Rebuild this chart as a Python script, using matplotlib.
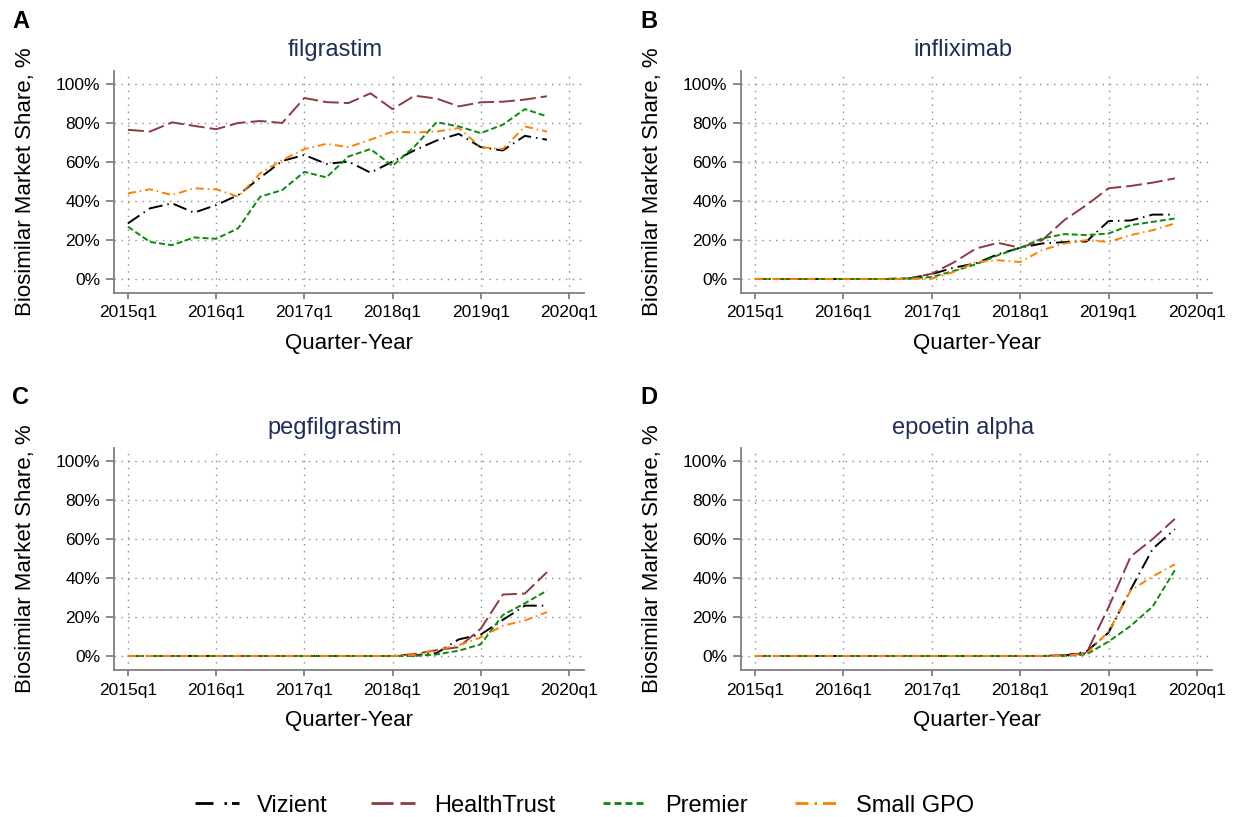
import matplotlib
matplotlib.use("Agg")
import matplotlib.pyplot as plt
from matplotlib.lines import Line2D
import numpy as np

# ---------------- data ----------------
quarters = [f"{y}q{q}" for y in range(2015, 2020) for q in range(1, 5)]  # 2015q1..2019q4
tick_labels = ["2015q1", "2016q1", "2017q1", "2018q1", "2019q1", "2020q1"]
ytick_vals = [0, 20, 40, 60, 80, 100]
ytick_labels = ["0%", "20%", "40%", "60%", "80%", "100%"]

drugs = ["filgrastim", "infliximab", "pegfilgrastim", "epoetin alpha"]
panel_letters = ["A", "B", "C", "D"]
gpos = ["Vizient", "HealthTrust", "Premier", "Small GPO"]

# filgrastim
fil_vizient = [28.5, 36.2, 38.8, 34.0, 37.9, 43.0, 52.0, 60.5, 63.6, 59.0,
               60.2, 54.5, 60.2, 66.0, 71.0, 74.4, 67.6, 65.9, 73.4, 71.4]
fil_healthtrust = [76.5, 75.6, 80.3, 78.5, 76.8, 80.0, 81.0, 80.0, 92.8, 90.7,
                   90.2, 95.2, 87.1, 94.0, 92.5, 88.5, 90.6, 90.9, 92.0, 93.7]
fil_premier = [26.8, 19.0, 17.3, 21.3, 20.6, 26.0, 42.2, 45.6, 54.9, 52.1,
               62.8, 66.6, 58.0, 68.0, 80.4, 78.2, 74.8, 79.1, 87.1, 83.4]
fil_smallgpo = [43.9, 46.0, 43.0, 46.5, 46.0, 42.2, 54.2, 61.0, 66.6, 69.3,
                67.6, 71.4, 75.6, 75.1, 75.6, 77.4, 67.6, 66.6, 78.2, 75.6]

# infliximab
inf_vizient = [0, 0, 0, 0, 0, 0, 0, 0.3, 2.5, 5.8,
               8.0, 12.7, 16.0, 18.2, 18.9, 19.2, 29.7, 30.0, 33.0, 33.0]
inf_healthtrust = [0, 0, 0, 0, 0, 0, 0, 0.3, 2.7, 8.5,
                   15.6, 18.5, 16.0, 19.9, 30.2, 37.9, 46.5, 47.7, 49.4, 51.6]
inf_premier = [0, 0, 0, 0, 0, 0, 0, 0.2, 1.0, 4.1,
               7.5, 12.2, 16.0, 20.8, 23.0, 22.5, 23.3, 27.6, 29.3, 31.0]
inf_smallgpo = [0, 0, 0, 0, 0, 0, 0, 0, 0.2, 3.6,
                8.7, 9.6, 8.7, 14.8, 18.2, 19.9, 19.0, 22.5, 25.0, 28.5]

# pegfilgrastim
peg_vizient = [0, 0, 0, 0, 0, 0, 0, 0, 0, 0,
               0, 0, 0, 0.3, 1.5, 8.5, 11.0, 18.5, 25.8, 25.8]
peg_healthtrust = [0, 0, 0, 0, 0, 0, 0, 0, 0, 0,
                   0, 0, 0, 1.0, 3.0, 4.5, 14.0, 31.5, 32.0, 43.0]
peg_premier = [0, 0, 0, 0, 0, 0, 0, 0, 0, 0,
               0, 0, 0, 0, 0.8, 2.7, 6.0, 21.0, 27.0, 33.5]
peg_smallgpo = [0, 0, 0, 0, 0, 0, 0, 0, 0, 0,
                0, 0, 0, 0.5, 3.0, 5.5, 9.5, 15.5, 18.2, 22.5]

# epoetin alpha
epo_vizient = [0, 0, 0, 0, 0, 0, 0, 0, 0, 0,
               0, 0, 0, 0, 0.2, 2.2, 12.0, 34.0, 55.0, 65.0]
epo_healthtrust = [0, 0, 0, 0, 0, 0, 0, 0, 0, 0,
                   0, 0, 0, 0, 0.5, 1.5, 25.0, 51.0, 60.0, 70.3]
epo_premier = [0, 0, 0, 0, 0, 0, 0, 0, 0, 0,
               0, 0, 0, 0, 0, 0.8, 7.4, 15.4, 25.4, 44.0]
epo_smallgpo = [0, 0, 0, 0, 0, 0, 0, 0, 0, 0,
                0, 0, 0, 0, 0, 1.2, 12.5, 33.6, 40.8, 47.0]

panel_data = [
    [fil_vizient, fil_healthtrust, fil_premier, fil_smallgpo],
    [inf_vizient, inf_healthtrust, inf_premier, inf_smallgpo],
    [peg_vizient, peg_healthtrust, peg_premier, peg_smallgpo],
    [epo_vizient, epo_healthtrust, epo_premier, epo_smallgpo],
]

# ---------------- styles ----------------
colors = ["#000000", "#8c3a40", "#0a8a0a", "#ff7f00"]
PX = 0.72  # px -> pt at dpi 100
dash_px = [(14, 5, 1.5, 5), (16, 5), (6, 3), (8, 4, 1.5, 4)]
dashes = [(0, tuple(v * PX for v in d)) for d in dash_px]
leg_dash_px = [(18, 11, 2.5, 5), (22, 7), (7, 4), (13, 6, 2.5, 6)]
leg_dashes = [(0, tuple(v * PX for v in d)) for d in leg_dash_px]
LW = 1.4

plt.rcParams["font.family"] = ["Liberation Sans", "DejaVu Sans"]
plt.rcParams["lines.scale_dashes"] = False

W, H = 1234, 817
fig = plt.figure(figsize=(W / 100, H / 100), dpi=100)

def fx(px):
    return px / W

def fy(py):
    return 1 - py / H

spine_col = "#7f7f7f"
title_col = "#1e2d59"

# axes pixel boxes: (left, top, right, bottom)
boxes = [(114, 70.7, 584, 293), (741, 70.7, 1212, 293),
         (114, 447.7, 584, 670), (741, 447.7, 1212, 670)]
title_x = [335, 963, 335, 963]
title_y = [50, 50, 428, 428]
letter_y = [21, 21, 398, 398]

x = np.arange(len(quarters))

for i, (l, t, r, b) in enumerate(boxes):
    ax = fig.add_axes([fx(l), fy(b), fx(r - l), (b - t) / H])
    for k in range(4):
        ax.plot(x, panel_data[i][k], color=colors[k], lw=LW, linestyle=dashes[k],
                dash_capstyle="butt", solid_capstyle="butt")
    ax.set_xlim(-0.63, 20.68)
    ax.set_ylim(-7.2, 106.8)
    ax.set_xticks(range(0, 21, 4))
    ax.set_xticklabels(tick_labels, fontsize=12.5)
    ax.set_yticks(ytick_vals)
    ax.set_yticklabels(ytick_labels, fontsize=12.5)
    ax.grid(True, color="#8a8a8a", linestyle=(0, (1, 4)), lw=1.0)
    ax.set_axisbelow(True)
    for s in ["top", "right"]:
        ax.spines[s].set_visible(False)
    for s in ["left", "bottom"]:
        ax.spines[s].set_color(spine_col)
        ax.spines[s].set_linewidth(1.3)
    ax.tick_params(axis="y", length=6, width=1.3, color=spine_col, pad=4)
    ax.tick_params(axis="x", length=4, width=1.3, color=spine_col, pad=5)
    ax.set_xlabel("Quarter-Year", fontsize=16, labelpad=9)
    ax.set_ylabel("Biosimilar Market Share, %", fontsize=16, labelpad=14)
    fig.text(fx(title_x[i]), fy(title_y[i]), drugs[i], ha="center", va="center",
             fontsize=17, color=title_col)
    fig.text(fx(12 if i % 2 == 0 else 640), fy(letter_y[i]), panel_letters[i],
             ha="left", va="center", fontsize=17, fontweight="bold")

# legend at bottom
handle_x = [195, 371, 603, 795]
text_x = [257, 434, 665, 856]
handle_len = 44
leg_y = 803
for k in range(4):
    ln = Line2D([fx(handle_x[k]), fx(handle_x[k] + handle_len)], [fy(leg_y), fy(leg_y)],
                transform=fig.transFigure, color=colors[k], lw=2.0, linestyle=leg_dashes[k],
                dash_capstyle="butt")
    fig.add_artist(ln)
    fig.text(fx(text_x[k]), fy(leg_y), gpos[k], ha="left", va="center_baseline",
             fontsize=17)

fig.savefig("out.png", dpi=100)
